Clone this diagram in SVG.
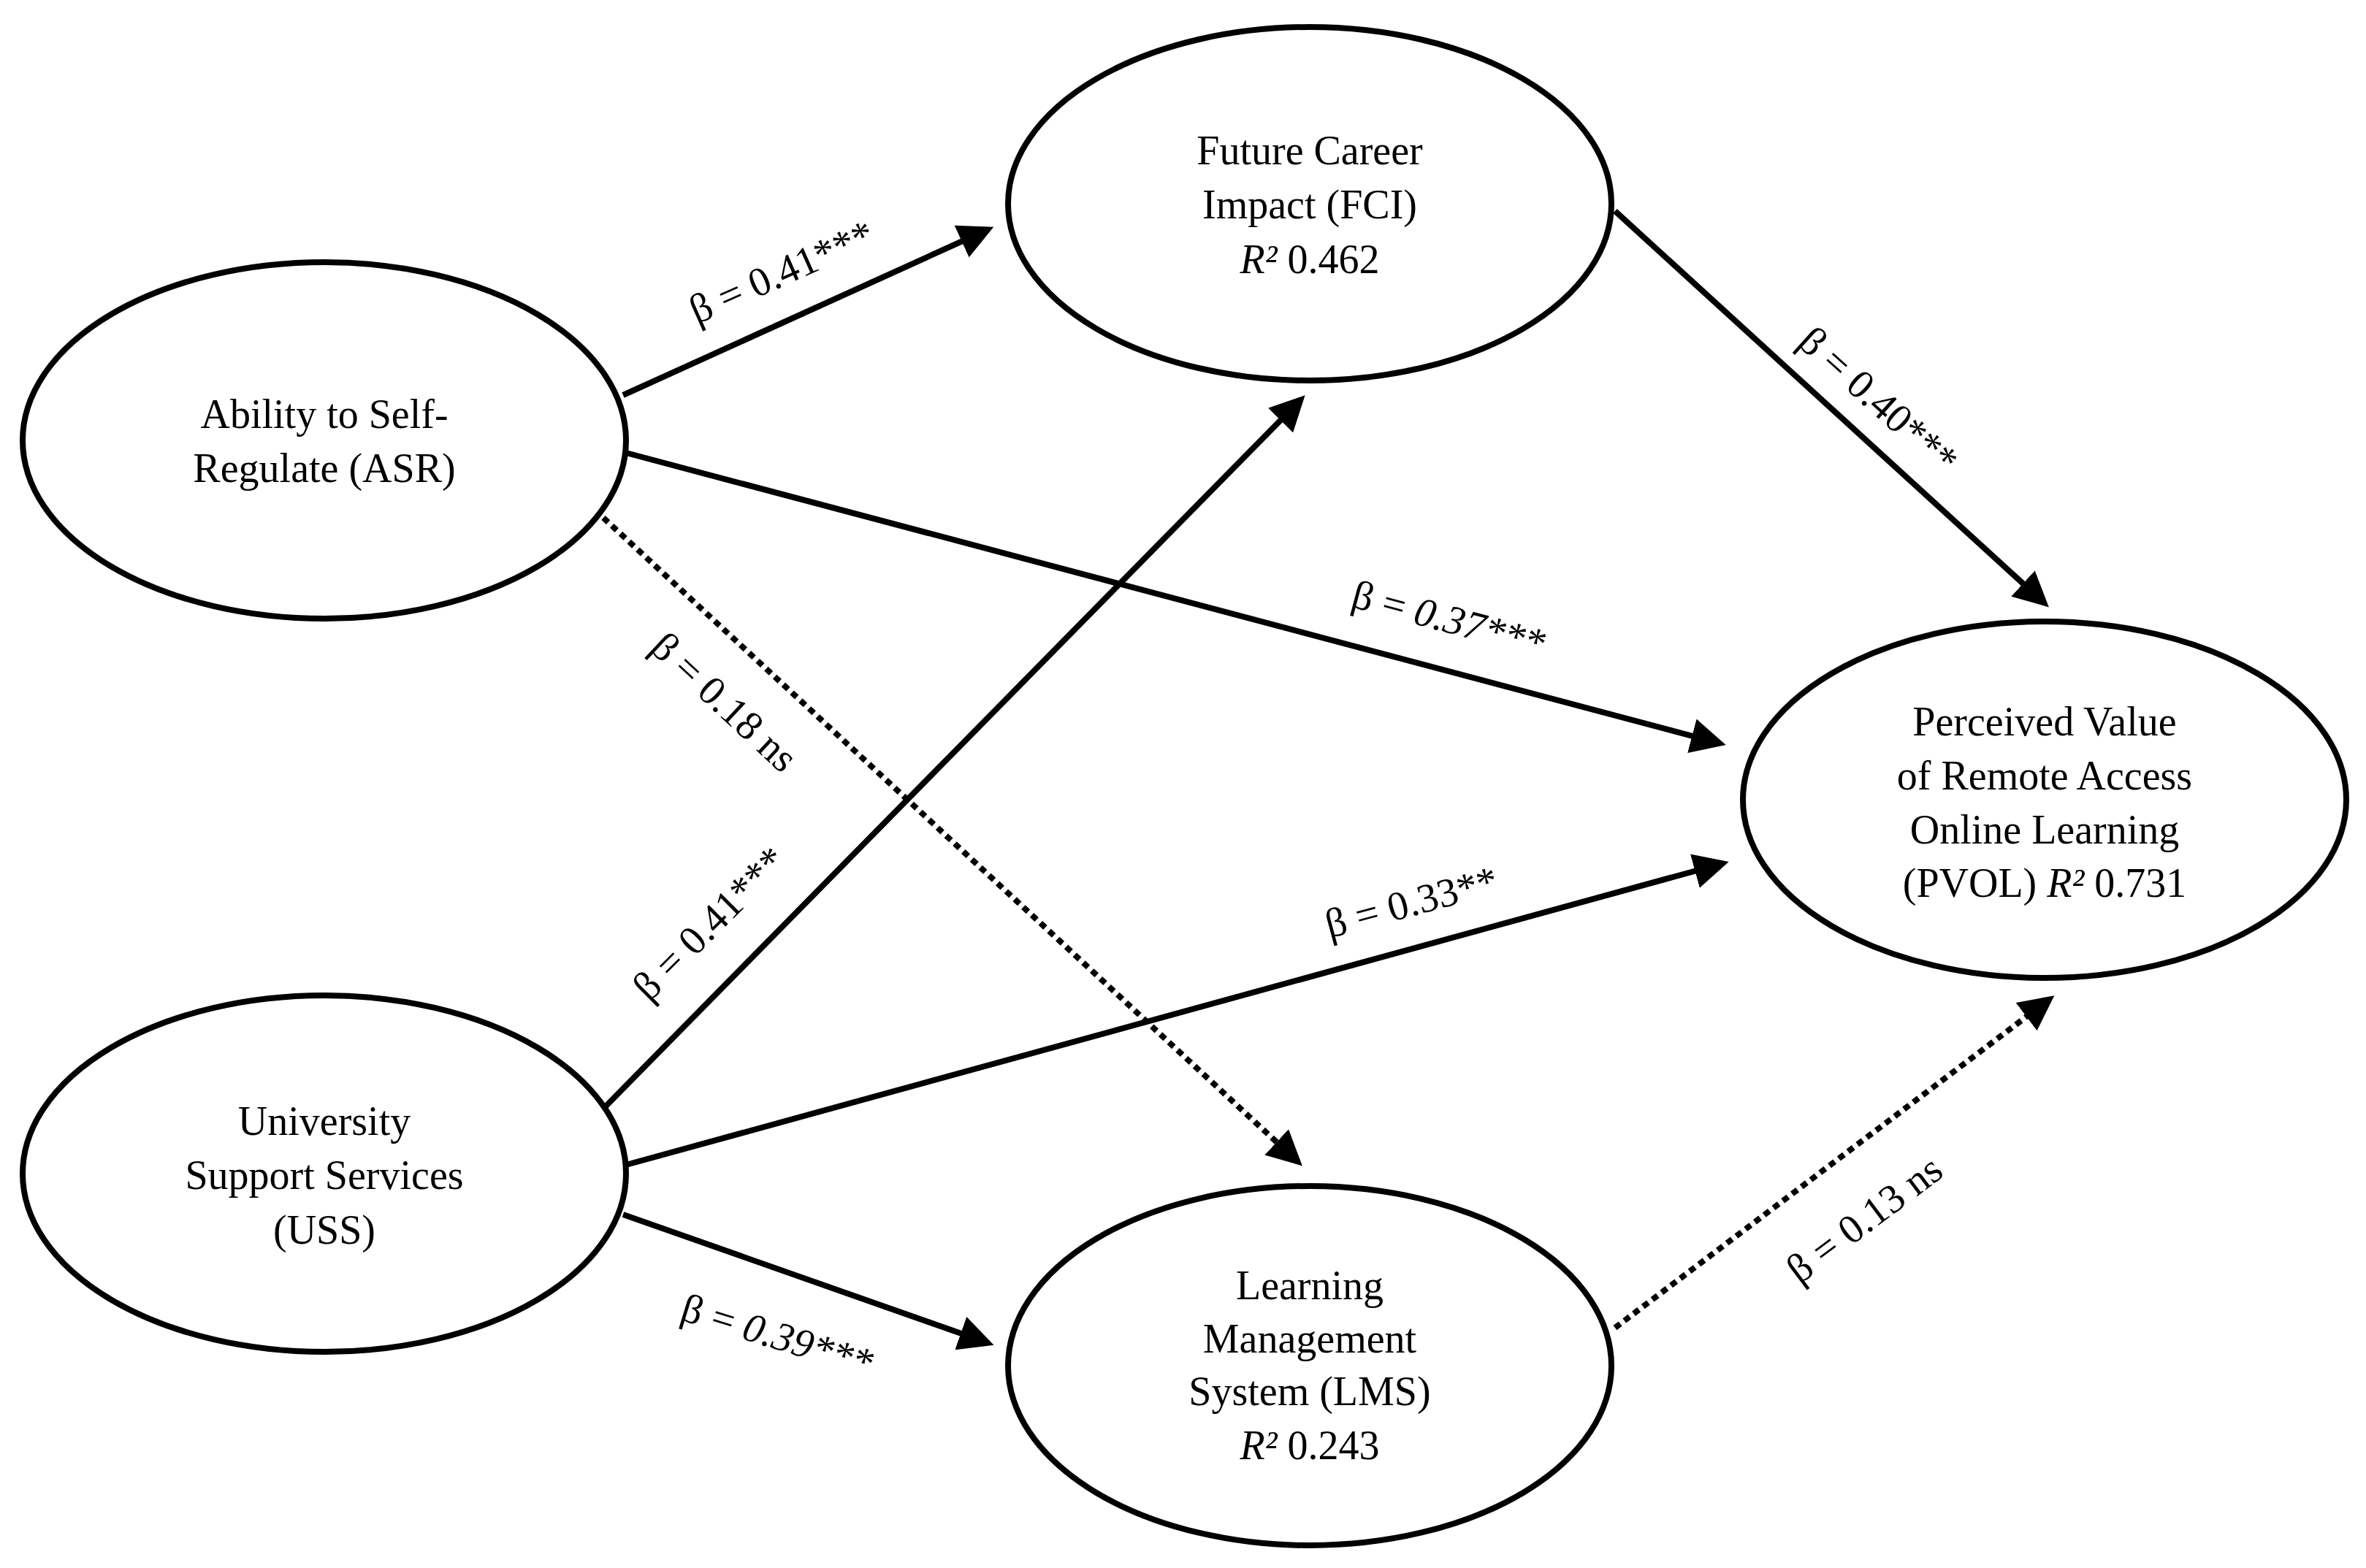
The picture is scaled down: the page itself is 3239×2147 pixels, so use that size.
<svg xmlns="http://www.w3.org/2000/svg" width="3239" height="2147" viewBox="0 0 3239 2147">
<style>
.n{fill:#fff;stroke:#000;stroke-width:8}
text{font-family:"Liberation Serif","Times New Roman",serif;font-size:56px;text-anchor:middle;dominant-baseline:central;fill:#000}
.c line{stroke:#000;stroke-width:8;marker-end:url(#a)}
.d{stroke-dasharray:9 7}
</style>
<defs><marker id="a" markerWidth="6" markerHeight="6" refX="5" refY="3" orient="auto" markerUnits="strokeWidth"><path d="M0,0L6,3L0,6z" fill="#000"/></marker></defs>
<rect width="3239" height="2147" fill="#fff"/>
<g id="ASR"><ellipse class="n" cx="444" cy="603" rx="413" ry="244"/><text x="444" y="567">Ability to Self-</text><text x="444" y="641">Regulate (ASR)</text></g>
<g id="USS"><ellipse class="n" cx="444" cy="1607" rx="413" ry="244"/><text x="444" y="1535">University</text><text x="444" y="1609">Support Services</text><text x="444" y="1684">(USS)</text></g>
<g id="FCI"><ellipse class="n" cx="1793" cy="279" rx="413" ry="242"/><text x="1793" y="206">Future Career</text><text x="1793" y="280">Impact (FCI)</text><text x="1793" y="355"><tspan font-style="italic">R²</tspan> 0.462</text></g>
<g id="LMS"><ellipse class="n" cx="1793" cy="1870" rx="413" ry="246"/><text x="1793" y="1760">Learning</text><text x="1793" y="1833">Management</text><text x="1793" y="1905">System (LMS)</text><text x="1793" y="1979"><tspan font-style="italic">R²</tspan> 0.243</text></g>
<g id="PVOL"><ellipse class="n" cx="2799" cy="1095" rx="413" ry="244"/><text x="2799" y="988">Perceived Value</text><text x="2799" y="1062">of Remote Access</text><text x="2799" y="1136">Online Learning</text><text x="2799" y="1209">(PVOL) <tspan font-style="italic">R²</tspan> 0.731</text></g>
<g class="c" id="connectors">
<line x1="853" y1="541" x2="1353" y2="314"/>
<line x1="857" y1="620" x2="2355" y2="1018"/>
<line class="d" x1="826" y1="709" x2="1777" y2="1591"/>
<line x1="826" y1="1518" x2="1781" y2="547"/>
<line x1="857" y1="1595" x2="2359" y2="1182"/>
<line x1="853" y1="1663" x2="1353" y2="1839"/>
<line x1="2211" y1="289" x2="2799" y2="826"/>
<line class="d" x1="2211" y1="1818" x2="2806" y2="1368"/>
</g>
<g id="labels">
<text transform="translate(1070,372) rotate(-24)">β = 0.41***</text>
<text transform="translate(1983,847) rotate(15)">β = <tspan font-style="italic">0.37***</tspan></text>
<text transform="translate(992,961) rotate(43)">β = 0.18 ns</text>
<text transform="translate(971,1264) rotate(-45)">β = 0.41***</text>
<text transform="translate(1932,1235) rotate(-15)">β = 0.33**</text>
<text transform="translate(1064,1828) rotate(17)">β = <tspan font-style="italic">0.39***</tspan></text>
<text transform="translate(2572,548) rotate(42)">β = 0.40***</text>
<text transform="translate(2552,1669) rotate(-37)">β = 0.13 ns</text>
</g>
</svg>
